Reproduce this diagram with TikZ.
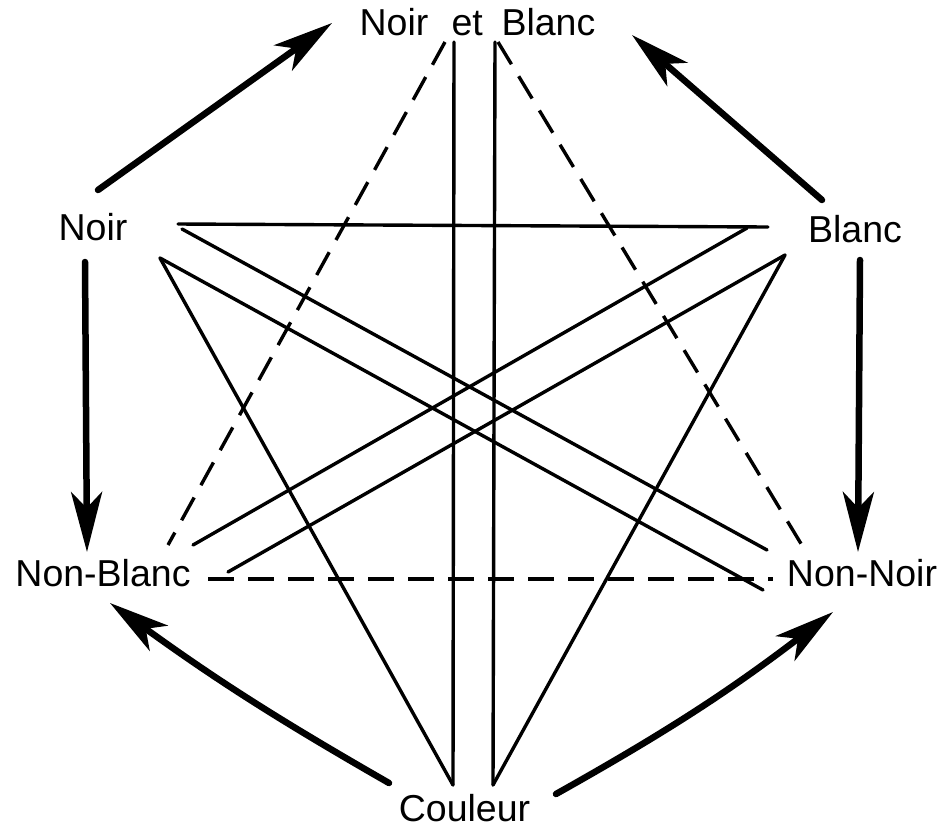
\documentclass[tikz,border=0pt]{standalone}
\usepackage{fontspec}
\setmainfont{Liberation Sans}
\usetikzlibrary{arrows.meta}
\begin{document}
\begin{tikzpicture}[x=1pt,y=-1pt,
  lbl/.style={anchor=base,inner sep=0pt,font=\fontsize{37.5}{44}\selectfont},
  thinline/.style={line width=3.4pt,line cap=round},
  dashline/.style={line width=3.4pt,dash pattern=on 26pt off 14pt},
  bigarrow/.style={line width=6.5pt,line cap=round,-{Stealth[length=60pt,width=31pt,inset=16pt]}}]
\useasboundingbox (0,0) rectangle (948,831);
% labels
\node[lbl] (neb) at (477.5,35) {Noir\hspace{0.62em}et\hspace{0.5em}Blanc};
\node[lbl] (noir) at (93,240) {Noir};
\node[lbl] (blanc) at (855,242) {Blanc};
\node[lbl] (nonblanc) at (103,586) {Non-Blanc};
\node[lbl] (nonnoir) at (862,586) {Non-Noir};
\node[lbl] (couleur) at (464.5,821) {Couleur};
% endpoints of connectors
\coordinate (nebDL) at (445,42);
\coordinate (nebVL) at (454,42);
\coordinate (nebVR) at (495,42);
\coordinate (nebDR) at (498,42);
\coordinate (noirH) at (178,224);
\coordinate (noirB) at (182,229);
\coordinate (noirC) at (160,258);
\coordinate (blancH) at (768,227);
\coordinate (blancB) at (747,228);
\coordinate (blancC) at (785,255);
\coordinate (nbD) at (168,545);
\coordinate (nbA) at (193,545);
\coordinate (nbB) at (228,572);
\coordinate (nbH) at (208,579);
\coordinate (nnA) at (767,550);
\coordinate (nnD) at (803,547);
\coordinate (nnB) at (763,590);
\coordinate (nnH) at (773,579);
\coordinate (coulL) at (453,785);
\coordinate (coulR) at (493,785);
% arrow endpoints
\coordinate (a1s) at (98,190);   \coordinate (a1e) at (332,23);
\coordinate (a2s) at (822,200);  \coordinate (a2e) at (632,35);
\coordinate (a3s) at (85,262);   \coordinate (a3e) at (87,552);
\coordinate (a4s) at (860,260);  \coordinate (a4e) at (858,552);
\coordinate (a5s) at (389,783);  \coordinate (a5e) at (110,603);
\coordinate (a6s) at (556,794);  \coordinate (a6e) at (833,612);
% thin lines
\draw[thinline] (noirH) -- (blancH);
\draw[thinline] (noirB) -- (nnA);
\draw[thinline] (noirC) -- (nnB);
\draw[thinline] (noirC) -- (coulL);
\draw[thinline] (blancB) -- (nbA);
\draw[thinline] (blancC) -- (nbB);
\draw[thinline] (blancC) -- (coulR);
\draw[thinline] (nebVL) -- (coulL);
\draw[thinline] (nebVR) -- (coulR);
\draw[dashline] (nebDL) -- (nbD);
\draw[dashline] (nebDR) -- (nnD);
\draw[dashline] (nbH) -- (nnH);
% thick arrows
\draw[bigarrow] (a1s) -- (a1e);
\draw[bigarrow] (a2s) -- (a2e);
\draw[bigarrow] (a3s) -- (a3e);
\draw[bigarrow] (a4s) -- (a4e);
\draw[bigarrow] (a5s) to[bend left=3] (a5e);
\draw[bigarrow] (a6s) to[bend right=4] (a6e);
\end{tikzpicture}
\end{document}
